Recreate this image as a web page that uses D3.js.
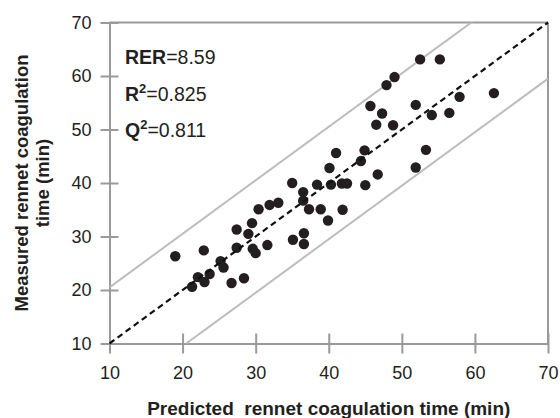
<!DOCTYPE html>
<html lang="en">
<head>
<meta charset="UTF-8">
<title>Rennet coagulation time</title>
<script src="https://d3js.org/d3.v7.min.js"></script>
<style>
    body { margin: 0; background: #fff; }
    svg text { font-family: "Liberation Sans", Arial, Helvetica, sans-serif; fill: #231f20; }
</style>
</head>
<body>
<svg id="chart" width="560" height="418"></svg>
<script>
// predicted vs measured rennet coagulation time (min)
const predicted = [52.5, 55.2, 49.0, 47.9, 62.6, 57.9, 45.7, 51.9, 47.3, 54.1, 56.5, 46.5, 48.8,
    41.0, 44.9, 53.3, 40.1, 44.4, 51.9, 46.7, 38.4, 40.3, 41.8, 42.5, 45.0, 35.0, 36.5, 36.5,
    31.9, 33.1, 30.4, 37.3, 38.9, 41.9, 39.9, 29.5, 27.4, 29.0, 36.6, 27.4, 29.6, 30.0, 31.6,
    35.1, 36.6, 19.0, 22.9, 25.2, 25.6, 22.1, 23.7, 23.0, 21.3, 26.7, 28.4];
const measured = [63.1, 63.1, 59.8, 58.3, 56.8, 56.1, 54.4, 54.6, 53.0, 52.7, 53.1, 50.9, 50.8,
    45.6, 46.1, 46.2, 42.8, 44.1, 42.9, 41.6, 39.7, 39.7, 39.9, 39.9, 39.6, 40.0, 38.3, 36.7,
    35.9, 36.3, 35.1, 35.1, 35.1, 35.0, 33.0, 32.5, 31.3, 30.5, 30.6, 27.9, 27.7, 26.9, 28.4,
    29.4, 28.6, 26.3, 27.4, 25.4, 24.2, 22.4, 23.0, 21.5, 20.6, 21.3, 22.2];
const ticks = [10, 20, 30, 40, 50, 60, 70];
const limitOffset = 10.5;
const stats = [["RER", "", "=8.59"], ["R", "2", "=0.825"], ["Q", "2", "=0.811"]];

const svg = d3.select("#chart");
const mLeft = 109.5, mRight = 548, mTop = 22.5, mBottom = 343.5;

const x = d3.scaleLinear().domain([10, 70]).range([mLeft, mRight]);
const y = d3.scaleLinear().domain([10, 70]).range([mBottom, mTop]);

const axisColor = "#9a9a9a";

// top and right frame
svg.append("line").attr("x1", mLeft).attr("x2", mRight).attr("y1", mTop).attr("y2", mTop)
    .attr("stroke", axisColor).attr("stroke-width", 2);
svg.append("line").attr("x1", mRight).attr("x2", mRight).attr("y1", mTop).attr("y2", mBottom)
    .attr("stroke", axisColor).attr("stroke-width", 2);

// axes, ticks cross the line
const xAxis = svg.append("g").attr("transform", `translate(0,${mBottom})`)
    .call(d3.axisBottom(x).tickValues(ticks).tickSize(10).tickSizeOuter(0).tickPadding(13));
const yAxis = svg.append("g").attr("transform", `translate(${mLeft},0)`)
    .call(d3.axisLeft(y).tickValues(ticks).tickSize(9).tickSizeOuter(0).tickPadding(9));

[xAxis, yAxis].forEach(g => {
    g.select(".domain").attr("stroke", axisColor).attr("stroke-width", 2);
    g.selectAll(".tick line").attr("stroke", axisColor).attr("stroke-width", 2);
    g.selectAll(".tick text").attr("font-size", 18).attr("fill", "#231f20")
        .style("font-family", '"Liberation Sans", Arial, sans-serif');
});
xAxis.selectAll(".tick line").attr("y1", -10);
yAxis.selectAll(".tick line").attr("x1", 9);

// clip for diagonal lines
svg.append("clipPath").attr("id", "plot")
    .append("rect").attr("x", mLeft).attr("y", mTop).attr("width", mRight - mLeft).attr("height", mBottom - mTop);

const lines = svg.append("g").attr("clip-path", "url(#plot)");
[limitOffset, -limitOffset].forEach(o => {
    lines.append("line")
        .attr("x1", x(10)).attr("y1", y(10 + o))
        .attr("x2", x(70)).attr("y2", y(70 + o))
        .attr("stroke", "#bdbdbd").attr("stroke-width", 2);
});

// points
svg.append("g").selectAll("circle")
    .data(predicted.map((p, i) => [p, measured[i]]))
    .join("circle")
    .attr("cx", d => x(d[0]))
    .attr("cy", d => y(d[1]))
    .attr("r", 5.2)
    .attr("fill", "#231f20");

// 1:1 line
svg.append("line")
    .attr("x1", x(10)).attr("y1", y(10))
    .attr("x2", x(70)).attr("y2", y(70))
    .attr("stroke", "#111").attr("stroke-width", 2.2)
    .attr("stroke-dasharray", "6,4");

// statistics
const statText = svg.append("g");
stats.forEach((s, i) => {
    const t = statText.append("text")
        .attr("x", 125).attr("y", 64 + i * 36.5)
        .attr("font-size", 19.5);
    t.append("tspan").attr("font-weight", "bold").text(s[0]);
    if (s[1]) {
        t.append("tspan").attr("font-weight", "bold").attr("font-size", 13)
            .attr("dy", -8).text(s[1]);
        t.append("tspan").attr("dy", 8).text(s[2]);
    } else {
        t.append("tspan").text(s[2]);
    }
});

// axis titles
svg.append("text")
    .attr("x", (mLeft + mRight) / 2).attr("y", 415)
    .attr("text-anchor", "middle").attr("font-weight", "bold").attr("font-size", 19)
    .attr("xml:space", "preserve")
    .text("Predicted  rennet coagulation time (min)");

const yTitle = svg.append("text")
    .attr("transform", `translate(28,${(mTop + mBottom) / 2}) rotate(-90)`)
    .attr("text-anchor", "middle").attr("font-weight", "bold").attr("font-size", 18.5);
yTitle.append("tspan").attr("x", 0).attr("y", 0).text("Measured rennet coagulation");
yTitle.append("tspan").attr("x", 0).attr("y", 21).text("time (min)");
</script>
</body>
</html>
